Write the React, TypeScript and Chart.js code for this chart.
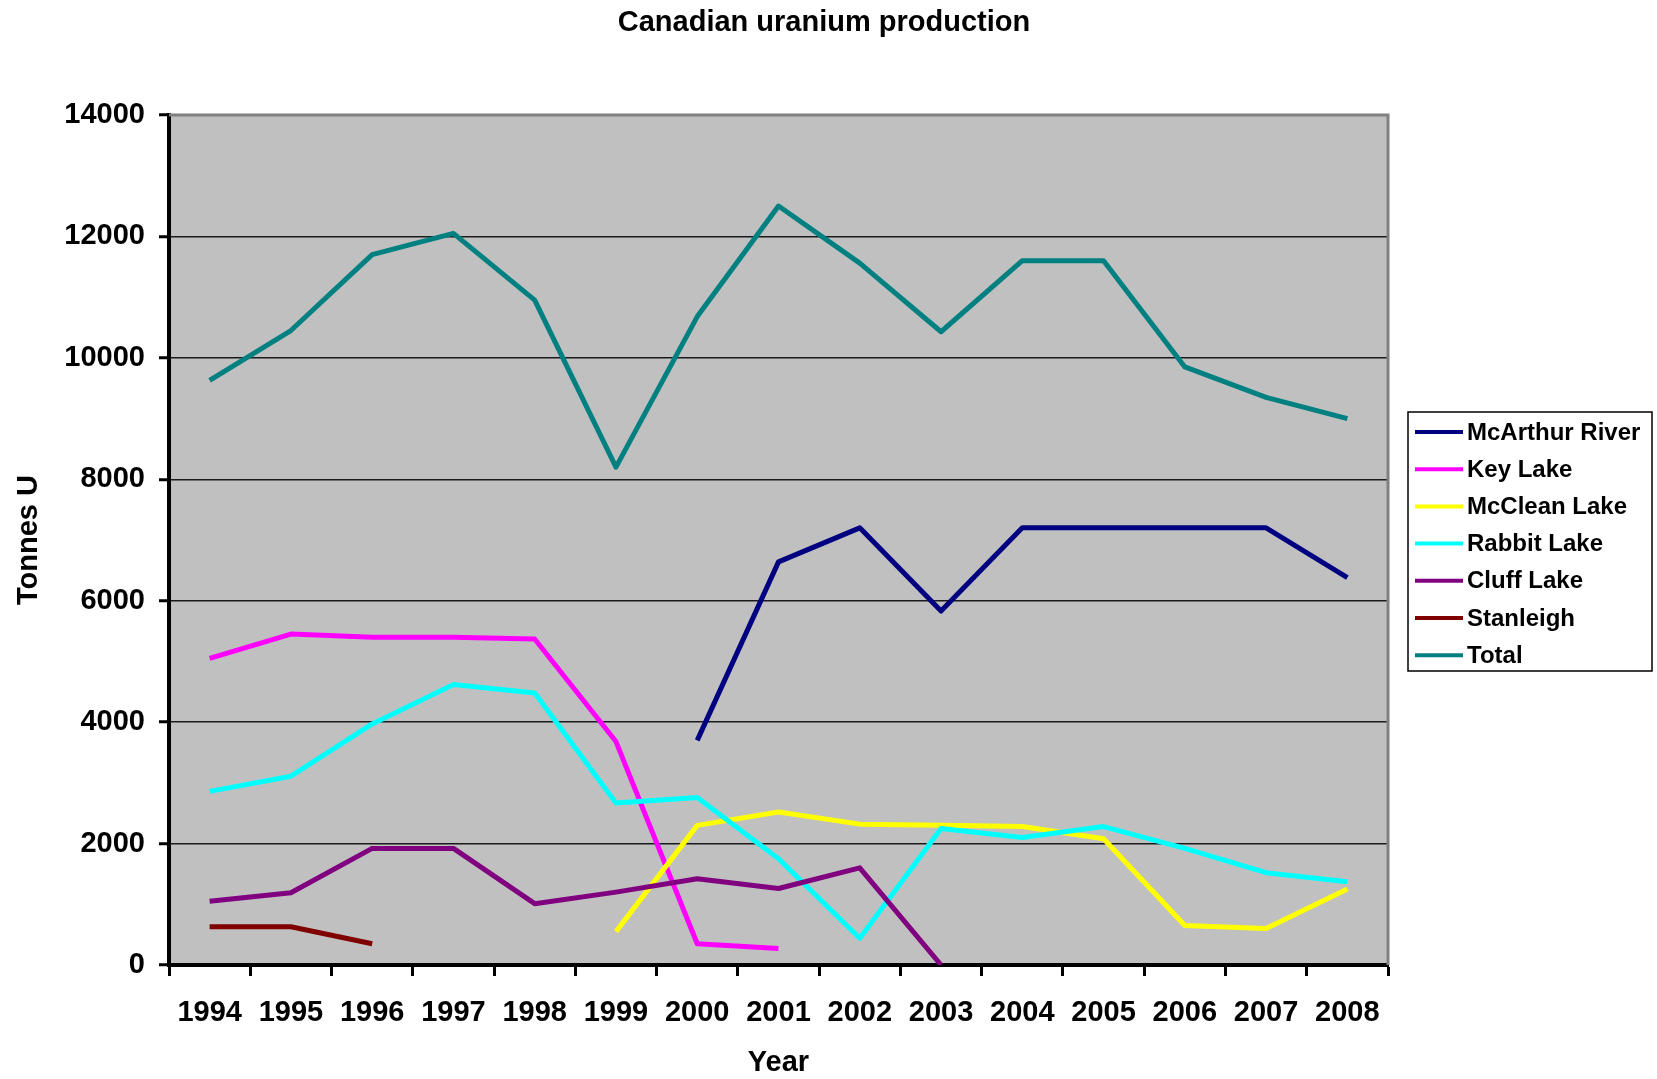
import React, { useEffect, useRef } from "react";
import { Chart, registerables } from "chart.js";

Chart.register(...registerables);

// Annual uranium output by mine, tonnes U
const years = ["1994", "1995", "1996", "1997", "1998", "1999", "2000", "2001", "2002", "2003", "2004", "2005", "2006", "2007", "2008"];
const mcArthurRiver = [null, null, null, null, null, null, 3700, 6640, 7200, 5830, 7200, 7200, 7200, 7200, 6380];
const keyLake = [5050, 5450, 5400, 5400, 5370, 3680, 350, 270, null, null, null, null, null, null, null];
const mcCleanLake = [null, null, null, null, null, 550, 2300, 2520, 2320, 2300, 2280, 2080, 650, 600, 1250];
const rabbitLake = [2860, 3110, 3970, 4620, 4480, 2670, 2760, 1750, 440, 2250, 2100, 2280, 1920, 1520, 1370];
const cluffLake = [1050, 1190, 1920, 1920, 1010, 1200, 1420, 1260, 1600, 0, null, null, null, null, null];
const stanleigh = [630, 630, 350, null, null, null, null, null, null, null, null, null, null, null, null];
const total = [9630, 10450, 11700, 12050, 10950, 8200, 10680, 12500, 11560, 10430, 11600, 11600, 9850, 9350, 9000];

const seriesNames = ["McArthur River", "Key Lake", "McClean Lake", "Rabbit Lake", "Cluff Lake", "Stanleigh", "Total"];
const seriesValues = [mcArthurRiver, keyLake, mcCleanLake, rabbitLake, cluffLake, stanleigh, total];
const seriesColors = ["#000080", "#FF00FF", "#FFFF00", "#00FFFF", "#800080", "#800000", "#008080"];

const yTicks = { min: 0, max: 14000, step: 2000 };
const chartTitle = "Canadian uranium production";

const FONT = '"Liberation Sans", Arial, Helvetica, sans-serif';

// Grey plot background, grey top/right frame, centred title and boxed legend
const framePlugin = {
  id: "frame",
  beforeDraw(chart: any) {
    const { ctx, chartArea: a } = chart;
    ctx.save();
    ctx.fillStyle = "#ffffff";
    ctx.fillRect(0, 0, chart.width, chart.height);
    ctx.fillStyle = "#C0C0C0";
    ctx.fillRect(a.left, a.top, a.right - a.left, a.bottom - a.top);
    ctx.restore();
  },
  beforeDatasetsDraw(chart: any) {
    const { ctx, chartArea: a } = chart;
    ctx.save();
    ctx.strokeStyle = "#808080";
    ctx.lineWidth = 3;
    ctx.beginPath();
    ctx.moveTo(a.left, a.top);
    ctx.lineTo(a.right, a.top);
    ctx.lineTo(a.right, a.bottom);
    ctx.stroke();
    ctx.restore();
  },
  afterDraw(chart: any) {
    const { ctx } = chart;
    ctx.save();
    // title
    ctx.fillStyle = "#000";
    ctx.font = `bold 29px ${FONT}`;
    ctx.textAlign = "center";
    ctx.textBaseline = "middle";
    ctx.fillText(chartTitle, 824, 23);

    // legend box
    const bx = 1408, by = 412, bw = 244, bh = 259;
    ctx.fillStyle = "#ffffff";
    ctx.fillRect(bx, by, bw, bh);
    ctx.strokeStyle = "#000";
    ctx.lineWidth = 1.5;
    ctx.strokeRect(bx, by, bw, bh);
    ctx.font = `bold 24px ${FONT}`;
    ctx.textAlign = "left";
    ctx.textBaseline = "middle";
    chart.data.datasets.forEach((ds: any, i: number) => {
      const y = 432 + i * 37.2;
      ctx.strokeStyle = ds.borderColor;
      ctx.lineWidth = 4;
      ctx.beginPath();
      ctx.moveTo(1415, y);
      ctx.lineTo(1463, y);
      ctx.stroke();
      ctx.fillStyle = "#000";
      ctx.fillText(ds.label, 1467, y + 1);
    });
    ctx.restore();
  },
};

export default function App() {
  const canvasRef = useRef<HTMLCanvasElement | null>(null);

  useEffect(() => {
    document.body.style.margin = "0";
    const canvas = canvasRef.current;
    if (!canvas) return;

    const datasets = seriesNames.map((name, i) => ({
      label: name,
      data: seriesValues[i],
      borderColor: seriesColors[i],
      backgroundColor: seriesColors[i],
      borderWidth: 5,
      pointRadius: 0,
      pointHoverRadius: 0,
      tension: 0,
      spanGaps: false,
      fill: false,
      order: seriesNames.length - i,
      borderJoinStyle: "round" as const,
    }));

    const chart = new Chart(canvas, {
      type: "line",
      data: { labels: years, datasets },
      plugins: [framePlugin],
      options: {
        responsive: false,
        animation: false,
        events: [],
        layout: { padding: { left: 0, right: 269, top: 115, bottom: 0 } },
        plugins: {
          legend: { display: false },
          title: { display: false },
          tooltip: { enabled: false },
        },
        scales: {
          x: {
            type: "category",
            offset: true,
            border: { display: true, color: "#000", width: 4 },
            grid: {
              offset: true,
              drawOnChartArea: false,
              drawTicks: true,
              tickLength: 11,
              tickColor: "#000",
              tickWidth: 3,
            },
            ticks: {
              autoSkip: false,
              maxRotation: 0,
              padding: 20,
              color: "#000",
              font: { family: FONT, size: 29, weight: "bold" },
            },
            title: {
              display: true,
              text: "Year",
              color: "#000",
              padding: { top: 0, bottom: 0 },
              font: { family: FONT, size: 29, weight: "bold", lineHeight: 1.1 },
            },
            afterFit(scale: any) {
              scale.height = 114;
            },
          },
          y: {
            min: yTicks.min,
            max: yTicks.max,
            border: { display: true, color: "#000", width: 4 },
            grid: {
              color: (c: any) => (c.tick && c.tick.value === yTicks.max ? "rgba(0,0,0,0)" : "#1a1a1a"),
              lineWidth: 1.5,
              tickLength: 10,
              tickColor: "#000",
              tickWidth: 3,
            },
            ticks: {
              stepSize: yTicks.step,
              padding: 14,
              color: "#000",
              font: { family: FONT, size: 29, weight: "bold" },
              callback: (v: any) => String(v),
            },
            title: {
              display: true,
              text: "Tonnes U",
              color: "#000",
              padding: { top: 12, bottom: 0 },
              font: { family: FONT, size: 29, weight: "bold", lineHeight: 1.2 },
            },
            afterFit(scale: any) {
              scale.width = 169;
            },
          },
        },
      } as any,
    });

    return () => chart.destroy();
  }, []);

  return (
    <div style={{ width: 1657, height: 1079, overflow: "hidden" }}>
      <canvas ref={canvasRef} width={1657} height={1079} style={{ display: "block" }} />
    </div>
  );
}
